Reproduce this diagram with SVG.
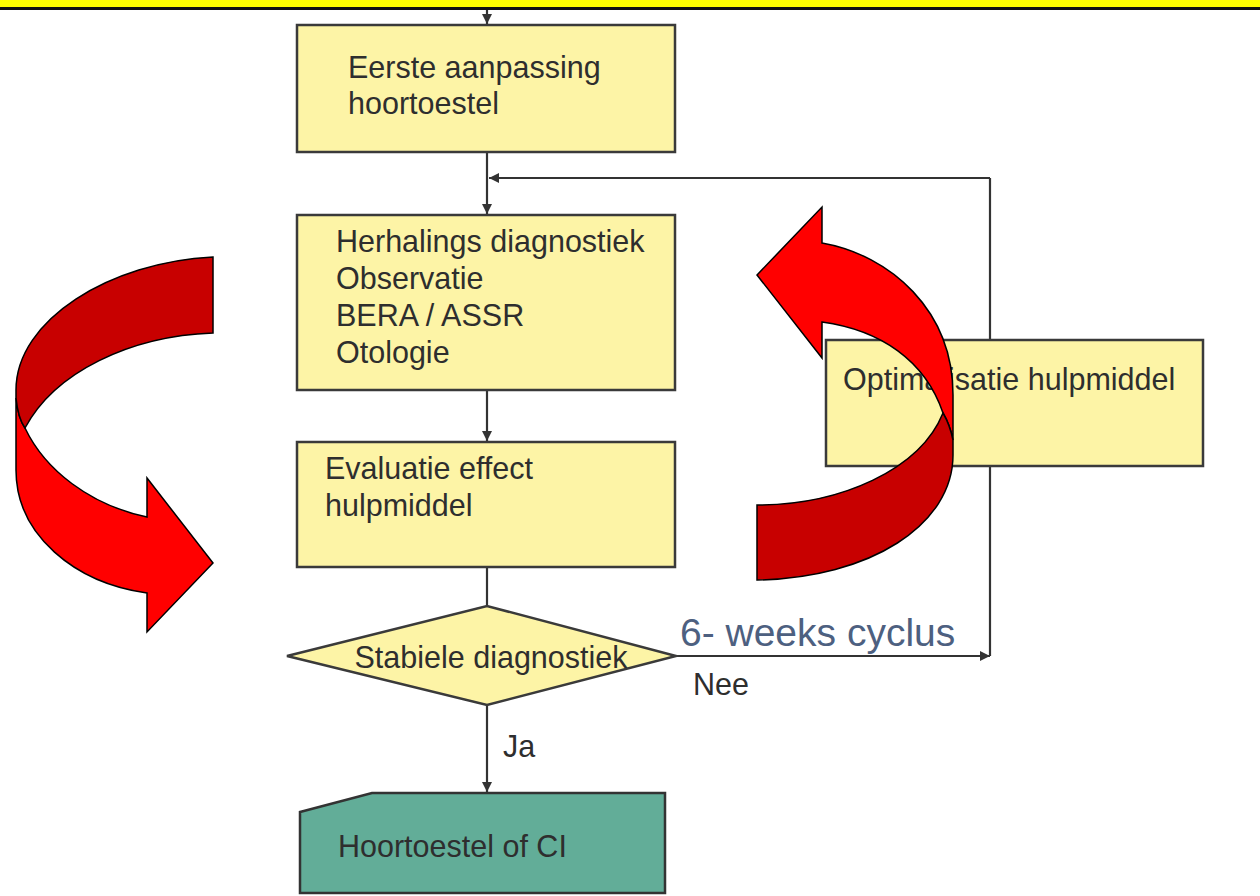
<svg xmlns="http://www.w3.org/2000/svg" width="1260" height="896" viewBox="0 0 1260 896">
<defs>
<style>
.box{fill:#fdf4a6;stroke:#3a3a3a;stroke-width:2.5}
.t{font-family:"Liberation Sans",Arial,sans-serif;font-size:30.5px;fill:#2e2e2e}
.c{fill:none;stroke:#333;stroke-width:2.2}
.br{fill:#ff0000;stroke:#000;stroke-width:1.5;stroke-linejoin:miter}
.dk{fill:#c80000;stroke:#000;stroke-width:1.5}
</style>
<marker id="ah" viewBox="0 0 10 10" refX="10" refY="5" markerWidth="10" markerHeight="10" markerUnits="userSpaceOnUse" orient="auto">
<path d="M0,0 L10,5 L0,10 Z" fill="#333"/>
</marker>
</defs>
<rect x="0" y="0" width="1260" height="896" fill="#fff"/>
<rect x="0" y="0" width="1260" height="7" fill="#ffff00"/>
<rect x="0" y="7" width="1260" height="3" fill="#111"/>

<g id="connectors">
<path class="c" d="M487,10 L487,24" marker-end="url(#ah)"/>
<path class="c" d="M487,152 L487,214" marker-end="url(#ah)"/>
<path class="c" d="M990,178 L489,178" marker-end="url(#ah)"/>
<path class="c" d="M487,390 L487,441" marker-end="url(#ah)"/>
<path class="c" d="M487,567 L487,606"/>
<path class="c" d="M676,656 L990,656" marker-end="url(#ah)"/>
<path class="c" d="M990,656 L990,178"/>
<path class="c" d="M487,705 L487,792" marker-end="url(#ah)"/>
</g>

<g id="n1"><rect class="box" x="297" y="25" width="378" height="127"/>
<text class="t" x="348" y="78">Eerste aanpassing</text>
<text class="t" x="348" y="114">hoortoestel</text></g>

<g id="n2"><rect class="box" x="297" y="215" width="378" height="175"/>
<text class="t" x="336" y="252">Herhalings diagnostiek</text>
<text class="t" x="336" y="289">Observatie</text>
<text class="t" x="336" y="326">BERA / ASSR</text>
<text class="t" x="336" y="363">Otologie</text></g>

<g id="n3"><rect class="box" x="297" y="442" width="378" height="125"/>
<text class="t" x="325" y="479">Evaluatie effect</text>
<text class="t" x="325" y="516">hulpmiddel</text></g>

<g id="n4"><path class="box" d="M287,656 L487,606 L676,656 L487,705 Z"/>
<text class="t" x="491" y="668" text-anchor="middle" font-size="29.5">Stabiele diagnostiek</text></g>

<g id="n5"><rect class="box" x="826" y="340" width="377" height="126"/>
<text class="t" x="843" y="390">Optimalisatie hulpmiddel</text></g>

<g id="n6"><path d="M300,812 L372,793 L665,793 L665,893 L300,893 Z" fill="#62ad98" stroke="#333" stroke-width="2.5"/>
<text class="t" x="338" y="857">Hoortoestel of CI</text></g>

<g id="labels">
<text x="680" y="646" font-family="Liberation Sans,Arial,sans-serif" font-size="39" fill="#4d6080">6- weeks cyclus</text>
<text class="t" x="693" y="695" font-size="28">Nee</text>
<text class="t" x="503" y="757" font-size="28">Ja</text>
</g>

<g id="arrow-left">
<path class="br" d="M16,398 Q18,418 25,428 C45,470 90,505 147,517 L147,478 L213,563 L147,632 L147,593 C75,583 16,535 16,470 Z"/>
<path class="dk" d="M213,257 C110,262 16,320 16,390 L16,398 Q18,418 25,428 C55,372 130,336 213,333 Z"/>
</g>
<g id="arrow-right">
<path class="br" d="M822,243 C890,255 953,310 953,395 L953,440 Q950,425 943,413 C925,360 880,330 822,322 L822,358 L757,275 L822,207 Z"/>
<path class="dk" d="M943,413 Q950,425 953,440 L953,455 C953,525 870,578 757,580 L757,505 C840,505 920,470 943,413 Z"/>
</g>
</svg>
